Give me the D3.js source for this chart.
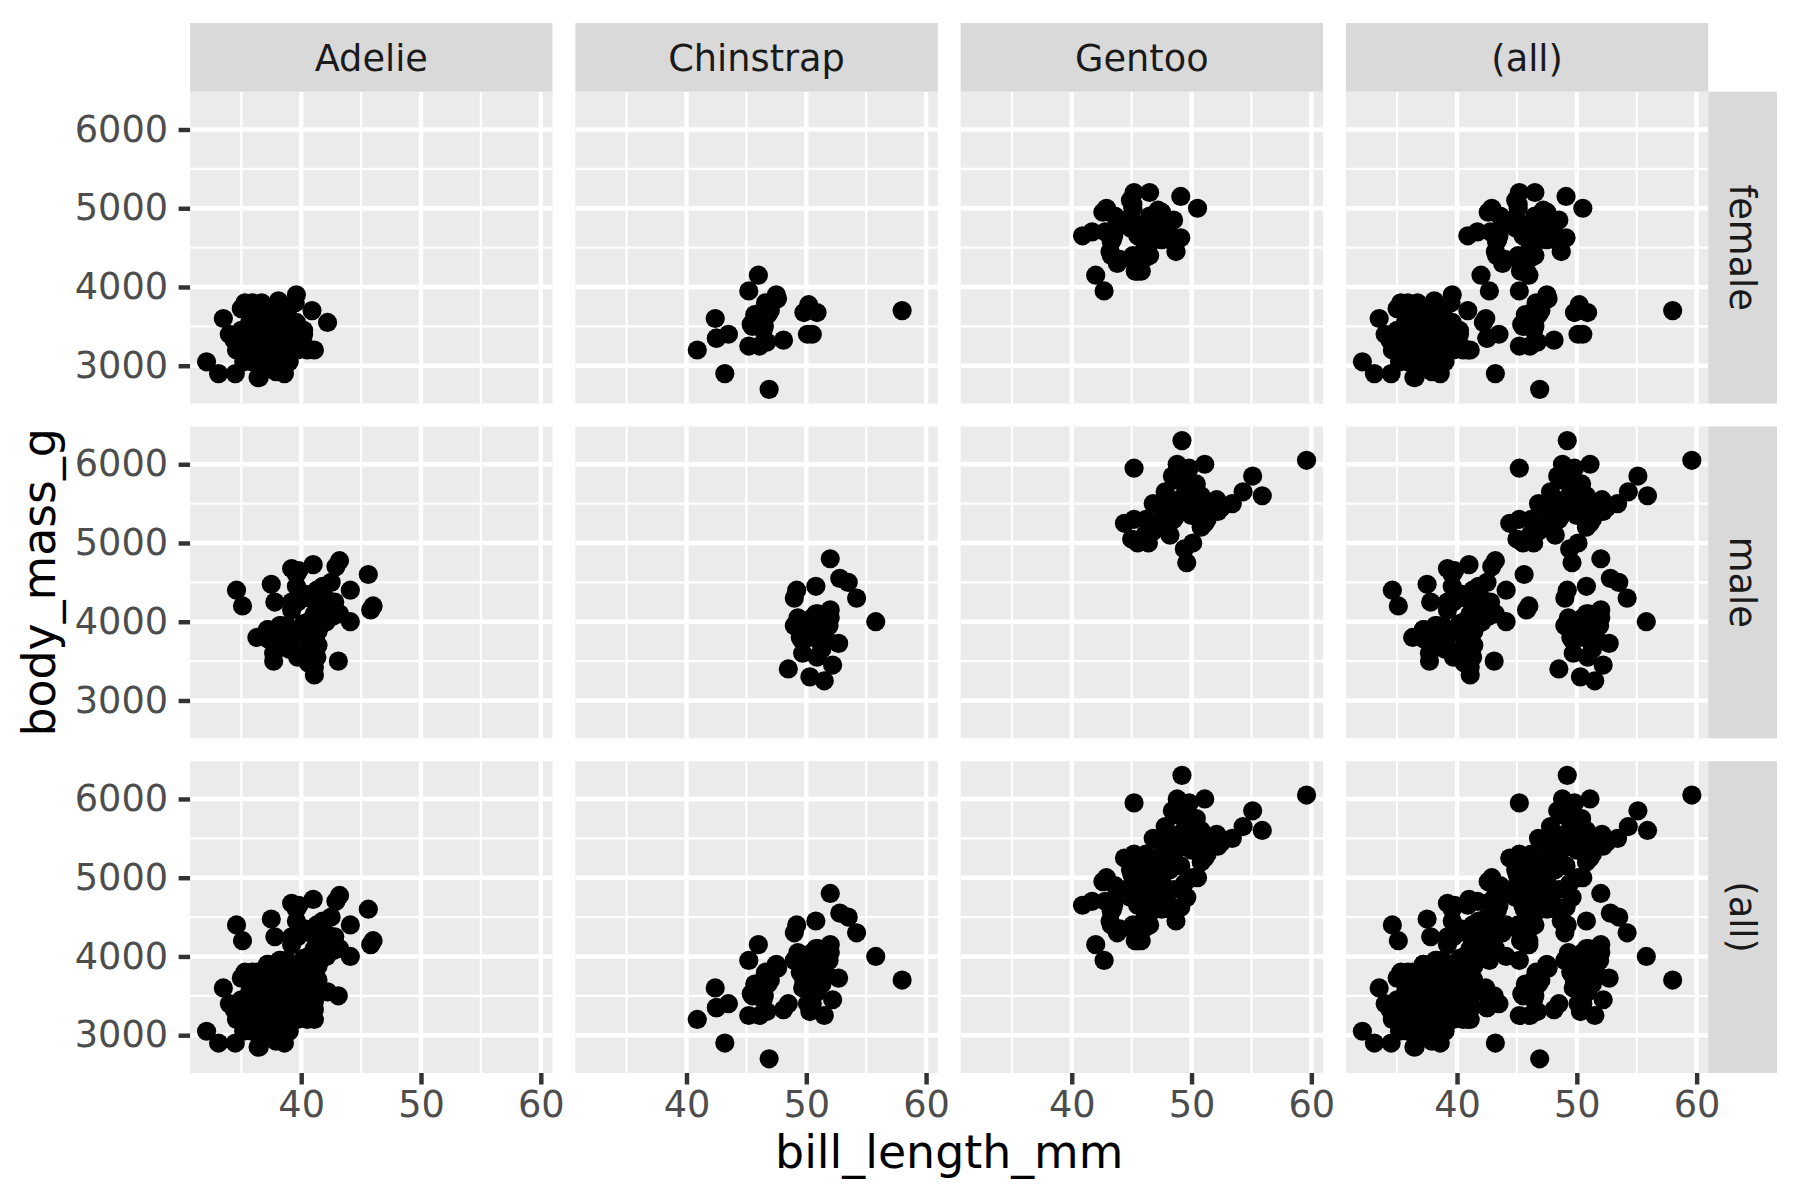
<!DOCTYPE html>
<html>
<head>
<meta charset="utf-8">
<script src="https://cdn.jsdelivr.net/npm/d3@7"></script>
<style>
  body { margin: 0; background: #fff; }
  svg { display: block; font-family: "DejaVu Sans", sans-serif; }
</style>
</head>
<body>
<script>
// penguins, rows with missing sex dropped; pairs are [bill_length_mm, body_mass_g]
var adelieFemale = [[39.5,3800],[40.3,3250],[36.7,3450],[38.9,3625],[41.1,3200],[36.6,3700],[38.7,3450],[34.4,3325],
  [37.8,3400],[35.9,3800],[35.3,3800],[40.5,3200],[37.9,3150],[39.5,3250],[39.5,3300],[36.4,3325],[42.2,3550],
  [37.6,3300],[36.5,3150],[36,3100],[37,3000],[36,3450],[39.6,3500],[35,3450],[34.5,2900],[39,3550],[36.5,2850],
  [35.7,3150],[37.6,3600],[36.4,2850],[35.5,3350],[35.9,3050],[33.5,3600],[39.6,3550],[35.5,3700],[40.9,3700],
  [36.2,3550],[34.6,3200],[36.7,3800],[37.3,3350],[36.9,3500],[38.9,3600],[35.7,3550],[34,3400],[36.2,3300],
  [38.1,3700],[33.1,2900],[35,3725],[37.7,3075],[37.9,2925],[38.6,3750],[38.1,3175],[38.1,3825],[39.7,3200],
  [39.6,3900],[38.6,2900],[35.7,3350],[36.2,3150],[40.2,3450],[35.2,3050],[38.8,3275],[39,3050],[38.5,3325],
  [36.8,3500],[38.1,3425],[35.6,3175],[37,3400],[40.2,3400],[32.1,3050],[37.3,3000],[36.6,3475],[36,3450],[36,3700]];
var adelieMale = [[39.1,3750],[39.3,3650],[39.2,4675],[38.6,3800],[34.6,4400],[42.5,4500],[46,4200],[37.7,3600],
  [38.2,3950],[38.8,3800],[40.6,3550],[40.5,3950],[37.2,3900],[40.9,3900],[39.2,4150],[38.8,3950],[39.8,4650],
  [40.8,3900],[44.1,4400],[39.6,4600],[41.1,3425],[42.3,4150],[40.1,4300],[42,4050],[41.4,3700],[40.6,3800],
  [37.6,3750],[41.3,4400],[41.1,4050],[41.6,3950],[41.1,4100],[41.8,4450],[39.7,3900],[45.8,4150],[42.8,4250],
  [37.2,3900],[42.1,4000],[42.9,4700],[35.1,4200],[41.3,3550],[36.3,3800],[38.3,3950],[41.1,4300],[39.6,4450],
  [40.8,4300],[40.3,4350],[43.2,4100],[41,4725],[37.8,4250],[39.7,3550],[38.2,3900],[43.2,4775],[45.6,4600],
  [42.2,4275],[42.7,4075],[37.3,3775],[41.1,3325],[37.7,3500],[41.4,3875],[40.6,4000],[41.5,4300],[44.1,4000],
  [43.1,3500],[37.5,4475],[41.1,3900],[40.2,3975],[39.7,4250],[40.6,3475],[40.7,3725],[39,3650],[39.2,4250],
  [37.8,3750],[41.5,4000]];
var chinstrapFemale = [[46.5,3500],[45.4,3525],[45.2,3950],[46.1,3250],[46,4150],[46.6,3800],[47,3700],[45.9,3575],
  [58,3700],[46.4,3450],[42.4,3600],[43.2,2900],[46.7,3300],[50.5,3400],[46.4,3700],[40.9,3200],[42.5,3350],
  [47.5,3900],[47.6,3850],[46.9,2700],[46.2,3650],[45.5,3500],[50.9,3675],[50.1,3400],[49.8,3675],[48.1,3325],
  [45.7,3600],[42.5,3350],[45.2,3250],[45.6,3525],[46.8,3650],[45.7,3650],[43.5,3400],[50.2,3775]];
var chinstrapMale = [[50,3900],[51.3,3650],[52.7,3725],[51.3,3750],[51.3,3700],[51.7,3775],[52,4050],[50.5,4050],
  [50.3,3300],[49.2,4400],[48.5,3400],[50.6,3800],[52,4150],[49.5,3800],[52.8,4550],[54.2,4300],[51,4100],
  [49.7,3600],[52,4800],[53.5,4500],[49,3950],[50.9,3550],[50.8,4450],[49,4300],[51.5,3250],[51.4,3950],
  [50.7,4050],[52.2,3450],[49.3,4050],[50.2,3800],[51.9,3950],[55.8,4000],[49.6,3775],[50.8,4100]];
var gentooFemale = [[46.1,4500],[48.7,4450],[46.5,4550],[45.4,4800],[43.3,4400],[40.9,4650],[45.5,4650],[45.8,4200],
  [42,4150],[46.2,4800],[45.1,5000],[46.5,4400],[42.9,5000],[48.2,4600],[42.8,4700],[45.1,5050],[49.1,5150],
  [42.6,4950],[44,4350],[42.7,3950],[45.3,4300],[43.6,4900],[45.5,4200],[44.9,5100],[46.6,4850],[45.1,4400],
  [46.5,4900],[43.8,4300],[43.2,4450],[45.3,4200],[45.7,4400],[45.8,4700],[43.5,4700],[47.7,4750],[46.5,5200],
  [46.4,4700],[47.5,4600],[45.2,4750],[49.1,4625],[47.4,4725],[44.9,4750],[43.4,4600],[47.5,4875],[47.5,4950],
  [45.5,4750],[44.5,4850],[46.9,4875],[48.4,4625],[48.5,4850],[47.2,4975],[41.7,4700],[43.3,4575],[50.5,5000],
  [43.5,4650],[46.2,4375],[47.2,4925],[46.8,4850],[45.2,5200]];
var gentooMale = [[50,5700],[50,5700],[47.6,5400],[46.7,5200],[46.8,5150],[49,5550],[48.4,5850],[49.3,5850],
  [49.2,6300],[48.7,5350],[50.2,5700],[46.3,5050],[46.1,5100],[47.8,5650],[50,5550],[47.3,5250],[59.6,6050],
  [48.4,5400],[44.4,5250],[48.7,5350],[49.6,5700],[49.6,4750],[50.5,5550],[50.5,5400],[45.2,5300],[48.5,5300],
  [50.1,5000],[45,5050],[45.5,5000],[50.4,5550],[46.2,5300],[54.3,5650],[49.8,5700],[49.5,5800],[50.7,5550],
  [46.4,5000],[48.2,5100],[48.6,5800],[51.1,6000],[45.2,5950],[52.5,5450],[50,5350],[50.8,5600],[51.3,5300],
  [52.1,5550],[52.2,5400],[49.5,5650],[50.8,5200],[49.4,4925],[51.1,5250],[55.9,5600],[49.1,5500],[46.8,5500],
  [53.4,5500],[48.1,5500],[49.8,5950],[51.5,5500],[55.1,5850],[48.8,6000],[50.4,5750],[49.9,5400]];

var species = ["Adelie", "Chinstrap", "Gentoo"];
var sexes = ["female", "male"];
var colLabels = ["Adelie", "Chinstrap", "Gentoo", "(all)"];
var rowLabels = ["female", "male", "(all)"];
var xTicks = [40, 50, 60];
var xMinor = [35, 45, 55];
var yTicks = [3000, 4000, 5000, 6000];
var yMinor = [3500, 4500, 5500];

var groups = {
  Adelie: { female: adelieFemale, male: adelieMale },
  Chinstrap: { female: chinstrapFemale, male: chinstrapMale },
  Gentoo: { female: gentooFemale, male: gentooMale }
};

var penguins = [];
species.forEach(function(sp) {
  sexes.forEach(function(sx) {
    groups[sp][sx].forEach(function(p) {
      penguins.push({ species: sp, sex: sx, bill: p[0], mass: p[1] });
    });
  });
});

var w = 1800, h = 1200;
var margin = 23, strip = 68.7, gap = 22.9;
var panelLeft = 190.1, panelRight = w - margin - strip;
var panelTop = margin + strip, panelBottom = 1073;
var panelW = (panelRight - panelLeft - 3 * gap) / 4;
var panelH = (panelBottom - panelTop - 2 * gap) / 3;

// ggplot-style 5% expansion
function expand(ext) {
  var d = (ext[1] - ext[0]) * 0.05;
  return [ext[0] - d, ext[1] + d];
}
var x = d3.scaleLinear()
  .domain(expand(d3.extent(penguins, function(d) { return d.bill; })))
  .range([0, panelW]);
var y = d3.scaleLinear()
  .domain(expand(d3.extent(penguins, function(d) { return d.mass; })))
  .range([panelH, 0]);

var svg = d3.select("body").append("svg")
  .attr("width", w)
  .attr("height", h);

svg.append("rect").attr("width", w).attr("height", h).attr("fill", "#fff");

colLabels.forEach(function(col, ci) {
  rowLabels.forEach(function(row, ri) {
    var px = panelLeft + ci * (panelW + gap);
    var py = panelTop + ri * (panelH + gap);
    var g = svg.append("g").attr("transform", "translate(" + px + "," + py + ")");

    g.append("rect")
      .attr("width", panelW)
      .attr("height", panelH)
      .attr("fill", "#EBEBEB");

    g.selectAll("line.xminor").data(xMinor).enter().append("line")
      .attr("x1", function(d) { return x(d); }).attr("x2", function(d) { return x(d); })
      .attr("y1", 0).attr("y2", panelH)
      .attr("stroke", "#fff").attr("stroke-width", 2.2);
    g.selectAll("line.yminor").data(yMinor).enter().append("line")
      .attr("y1", function(d) { return y(d); }).attr("y2", function(d) { return y(d); })
      .attr("x1", 0).attr("x2", panelW)
      .attr("stroke", "#fff").attr("stroke-width", 2.2);
    g.selectAll("line.xmajor").data(xTicks).enter().append("line")
      .attr("x1", function(d) { return x(d); }).attr("x2", function(d) { return x(d); })
      .attr("y1", 0).attr("y2", panelH)
      .attr("stroke", "#fff").attr("stroke-width", 4.45);
    g.selectAll("line.ymajor").data(yTicks).enter().append("line")
      .attr("y1", function(d) { return y(d); }).attr("y2", function(d) { return y(d); })
      .attr("x1", 0).attr("x2", panelW)
      .attr("stroke", "#fff").attr("stroke-width", 4.45);

    var pts = penguins.filter(function(d) {
      return (col === "(all)" || d.species === col) && (row === "(all)" || d.sex === row);
    });
    g.selectAll("circle").data(pts).enter().append("circle")
      .attr("cx", function(d) { return x(d.bill); })
      .attr("cy", function(d) { return y(d.mass); })
      .attr("r", 9.6)
      .attr("fill", "#000");

    if (ci === 0) {
      var ya = g.append("g").call(d3.axisLeft(y).tickValues(yTicks).tickFormat(d3.format("d"))
        .tickSize(11.5).tickPadding(10.5));
      ya.select(".domain").remove();
      ya.selectAll("line").attr("stroke", "#333333").attr("stroke-width", 4.45);
      ya.selectAll("text").attr("fill", "#4D4D4D").attr("font-size", 36.7)
        .attr("font-family", "DejaVu Sans");
    }
    if (ri === rowLabels.length - 1) {
      var xa = g.append("g").attr("transform", "translate(0," + panelH + ")")
        .call(d3.axisBottom(x).tickValues(xTicks).tickFormat(d3.format("d"))
          .tickSize(11.5).tickPadding(6));
      xa.select(".domain").remove();
      xa.selectAll("line").attr("stroke", "#333333").attr("stroke-width", 4.45);
      xa.selectAll("text").attr("fill", "#4D4D4D").attr("font-size", 36.7)
        .attr("font-family", "DejaVu Sans");
    }
  });
});

// column strips
colLabels.forEach(function(col, ci) {
  var px = panelLeft + ci * (panelW + gap);
  svg.append("rect")
    .attr("x", px).attr("y", margin)
    .attr("width", panelW).attr("height", strip)
    .attr("fill", "#D9D9D9");
  svg.append("text")
    .attr("x", px + panelW / 2).attr("y", margin + strip / 2)
    .attr("dy", "0.37em")
    .attr("text-anchor", "middle")
    .attr("font-size", 36.7)
    .attr("fill", "#1A1A1A")
    .text(col);
});

// row strips
rowLabels.forEach(function(row, ri) {
  var py = panelTop + ri * (panelH + gap);
  svg.append("rect")
    .attr("x", panelRight).attr("y", py)
    .attr("width", strip).attr("height", panelH)
    .attr("fill", "#D9D9D9");
  svg.append("text")
    .attr("transform", "translate(" + (panelRight + strip / 2) + "," + (py + panelH / 2) + ") rotate(90)")
    .attr("dy", "0.35em")
    .attr("text-anchor", "middle")
    .attr("font-size", 36.7)
    .attr("fill", "#1A1A1A")
    .text(row);
});

svg.append("text")
  .attr("x", (panelLeft + panelRight) / 2)
  .attr("y", 1168)
  .attr("text-anchor", "middle")
  .attr("font-size", 45.8)
  .attr("fill", "#000")
  .text("bill_length_mm");

svg.append("text")
  .attr("transform", "translate(55," + (panelTop + panelBottom) / 2 + ") rotate(-90)")
  .attr("text-anchor", "middle")
  .attr("font-size", 45.8)
  .attr("fill", "#000")
  .text("body_mass_g");
</script>
</body>
</html>
